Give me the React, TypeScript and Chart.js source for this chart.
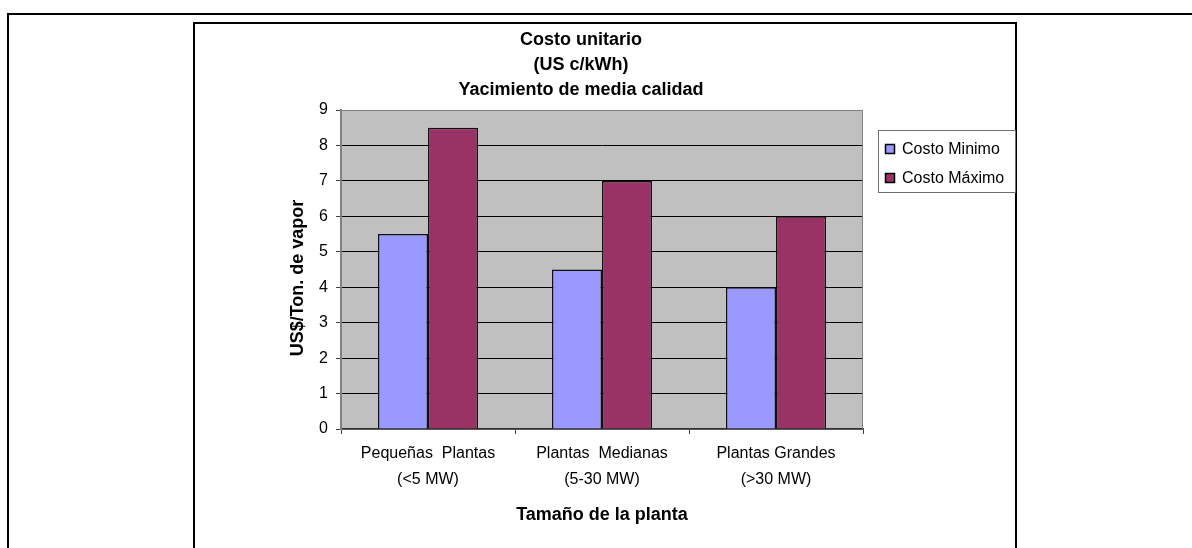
import React, { useEffect, useRef } from "react";
import { Chart, registerables } from "chart.js";

Chart.register(...registerables);

// Plant-size categories (two-line tick labels)
const categories: string[][] = [
  ["Pequeñas  Plantas", "(<5 MW)"],
  ["Plantas  Medianas", "(5-30 MW)"],
  ["Plantas Grandes", "(>30 MW)"],
];

// Unit cost per series
const costoMinimo = [5.5, 4.5, 4];
const costoMaximo = [8.5, 7, 6];

const seriesNames = ["Costo Minimo", "Costo Máximo"];
const seriesColors = ["#9999FF", "#993366"];

const titleLines = ["Costo unitario", "(US c/kWh)", "Yacimiento de media calidad"];
const xAxisTitle = "Tamaño de la planta";
const yAxisTitle = "US$/Ton. de vapor";

const yMin = 0;
const yMax = 9;
const yStep = 1;

const FONT = '"Liberation Sans", Arial, sans-serif';
const W = 1192;
const H = 548;

const decor = {
  id: "decor",
  beforeDraw(chart: any) {
    const { ctx, chartArea: a } = chart;
    ctx.save();
    ctx.fillStyle = "#C0C0C0";
    ctx.fillRect(a.left, a.top, a.right - a.left, a.bottom - a.top);
    ctx.restore();
  },
  afterDatasetsDraw(chart: any) {
    const { ctx, chartArea: a } = chart;
    ctx.save();
    ctx.strokeStyle = "#808080";
    ctx.lineWidth = 1;
    ctx.beginPath();
    ctx.moveTo(a.left, a.top + 0.5);
    ctx.lineTo(a.right - 0.5, a.top + 0.5);
    ctx.lineTo(a.right - 0.5, a.bottom);
    ctx.stroke();
    ctx.restore();
  },
  afterDraw(chart: any) {
    const { ctx, chartArea: a } = chart;
    ctx.save();
    ctx.fillStyle = "#000";

    // chart title
    ctx.font = `bold 18px ${FONT}`;
    ctx.textAlign = "center";
    ctx.textBaseline = "alphabetic";
    titleLines.forEach((line, i) => ctx.fillText(line, 581, 45 + i * 25));

    // x axis title
    ctx.fillText(xAxisTitle, (a.left + a.right) / 2, 520);

    // y axis title
    ctx.save();
    ctx.translate(303, 278);
    ctx.rotate(-Math.PI / 2);
    ctx.fillText(yAxisTitle, 0, 0);
    ctx.restore();

    // legend
    const lx = 878.5, ly = 130.5, lw = 137, lh = 62;
    ctx.fillStyle = "#fff";
    ctx.fillRect(lx, ly, lw, lh);
    ctx.strokeStyle = "#707070";
    ctx.lineWidth = 1;
    ctx.strokeRect(lx, ly, lw, lh);
    ctx.font = `16px ${FONT}`;
    ctx.textAlign = "left";
    chart.data.datasets.forEach((ds: any, i: number) => {
      const sy = 144 + i * 29;
      ctx.fillStyle = ds.backgroundColor;
      ctx.fillRect(885, sy, 10, 10);
      ctx.strokeStyle = "#000";
      ctx.lineWidth = 1.5;
      ctx.strokeRect(885.5, sy + 0.5, 9, 9);
      ctx.fillStyle = "#000";
      ctx.fillText(ds.label, 902, 154 + i * 28.5);
    });
    ctx.restore();
  },
};

export default function App() {
  const ref = useRef<HTMLCanvasElement>(null);

  useEffect(() => {
    if (!ref.current) return;
    Chart.defaults.font.family = FONT;
    const chart = new Chart(ref.current, {
      type: "bar",
      data: {
        labels: categories,
        datasets: [
          {
            label: seriesNames[0],
            data: costoMinimo,
            backgroundColor: seriesColors[0],
            borderColor: "#111",
            borderWidth: 1.5,
          },
          {
            label: seriesNames[1],
            data: costoMaximo,
            backgroundColor: seriesColors[1],
            borderColor: "#111",
            borderWidth: 1.5,
          },
        ],
      },
      options: {
        responsive: false,
        animation: false,
        layout: { padding: { left: 281, top: 110, right: 329, bottom: 59 } },
        datasets: {
          bar: { categoryPercentage: 0.575, barPercentage: 1 },
        },
        plugins: {
          legend: { display: false },
          title: { display: false },
          tooltip: { enabled: false },
        },
        scales: {
          x: {
            offset: true,
            afterFit: (s: any) => {
              s.height = 60;
            },
            grid: {
              display: true,
              offset: true,
              drawOnChartArea: false,
              drawTicks: true,
              tickLength: 5,
              color: "#404040",
            },
            border: { display: true, color: "#303030", width: 1.5 },
            ticks: {
              color: "#000",
              font: { size: 16, lineHeight: 1.625 },
              padding: 7,
              maxRotation: 0,
              autoSkip: false,
            },
          },
          y: {
            min: yMin,
            max: yMax,
            afterFit: (s: any) => {
              s.width = 60;
            },
            grid: {
              color: (c: any) =>
                c.tick && c.tick.value > yMin && c.tick.value < yMax ? "#000" : "#808080",
              tickColor: "#404040",
              tickLength: 5,
            },
            border: { display: true, color: "#808080", width: 2 },
            ticks: {
              stepSize: yStep,
              color: "#000",
              font: { size: 16 },
              padding: 8,
            },
          },
        },
      },
      plugins: [decor],
    });
    return () => chart.destroy();
  }, []);

  return (
    <div
      style={{
        position: "absolute",
        left: 0,
        top: 0,
        width: W,
        height: H,
        overflow: "hidden",
        background: "#fff",
      }}
    >
      <div
        style={{
          position: "absolute",
          left: 7,
          top: 13,
          width: 1300,
          height: 700,
          border: "2px solid #000",
        }}
      />
      <div
        style={{
          position: "absolute",
          left: 193,
          top: 22,
          width: 820,
          height: 700,
          border: "2px solid #000",
        }}
      />
      <canvas
        ref={ref}
        width={W}
        height={H}
        style={{ position: "absolute", left: 0, top: 0 }}
      />
    </div>
  );
}
